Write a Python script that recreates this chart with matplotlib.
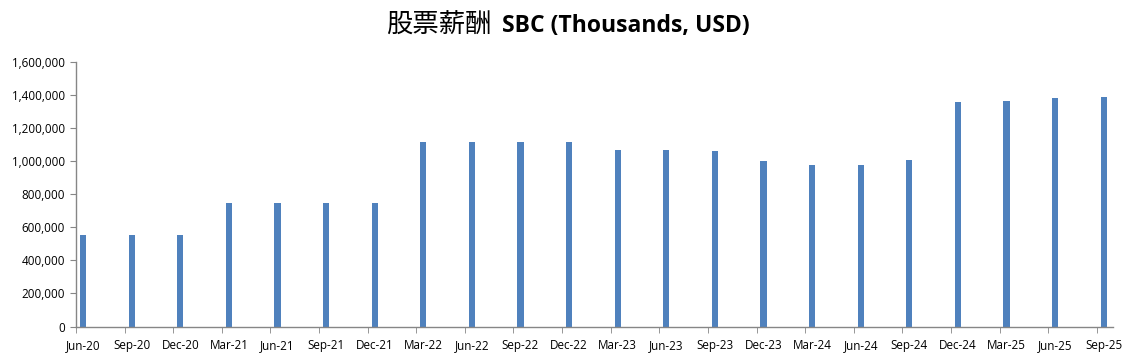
import matplotlib.pyplot as plt
import matplotlib.ticker as ticker
import numpy as np

quarters = ["Jun-20", "Sep-20", "Dec-20", "Mar-21", "Jun-21", "Sep-21", "Dec-21",
            "Mar-22", "Jun-22", "Sep-22", "Dec-22", "Mar-23", "Jun-23", "Sep-23",
            "Dec-23", "Mar-24", "Jun-24", "Sep-24", "Dec-24", "Mar-25", "Jun-25", "Sep-25"]
sbc = [553000, 553000, 553000, 747000, 747000, 747000, 747000,
       1119000, 1119000, 1119000, 1119000, 1065000, 1065000, 1059000,
       999000, 980000, 974000, 1010000, 1356000, 1362000, 1380000, 1386000]

AXIS = "#868686"
BAR = "#4F81BD"

fig = plt.figure(figsize=(11.35, 3.57), dpi=100)
ax = fig.add_axes([0.067, 0.0854, 0.9136, 0.7409])

x = np.arange(len(quarters))
ax.bar(x, sbc, width=0.125, color=BAR, zorder=2)

# tick marks sit a little left of each bar, labels under the bar
tick_off = 0.144
ax.set_xlim(-tick_off, len(quarters) - 1 + 0.19)
ax.set_xticks(x)
ax.set_xticklabels(quarters, fontsize=8.4, family="Open Sans")
ax.set_xticks(x - tick_off, minor=True)
ax.tick_params(axis="x", which="major", length=0, pad=9)
ax.tick_params(axis="x", which="minor", length=4, color=AXIS, direction="out")

ax.set_ylim(0, 1600000)
ax.yaxis.set_major_locator(ticker.MultipleLocator(200000))
ax.yaxis.set_major_formatter(ticker.FuncFormatter(lambda v, p: f"{int(v):,}"))
ax.tick_params(axis="y", length=4, color=AXIS, direction="out", labelsize=8.4, pad=4)
for lab in ax.get_yticklabels():
    lab.set_family("Open Sans")

for side in ("top", "right"):
    ax.spines[side].set_visible(False)
for side in ("left", "bottom"):
    ax.spines[side].set_color(AXIS)
    ax.spines[side].set_linewidth(1.0)

# title: Chinese part plain, English part bold
fig.text(0.387, 0.928, "股票薪酬", fontsize=19, family=["Noto Sans CJK SC", "DejaVu Sans"],
         ha="center", va="center")
fig.text(0.551, 0.928, "SBC (Thousands, USD)", fontsize=16.5, fontweight="bold",
         family="Open Sans", ha="center", va="center")

fig.savefig("out.png", dpi=100)
